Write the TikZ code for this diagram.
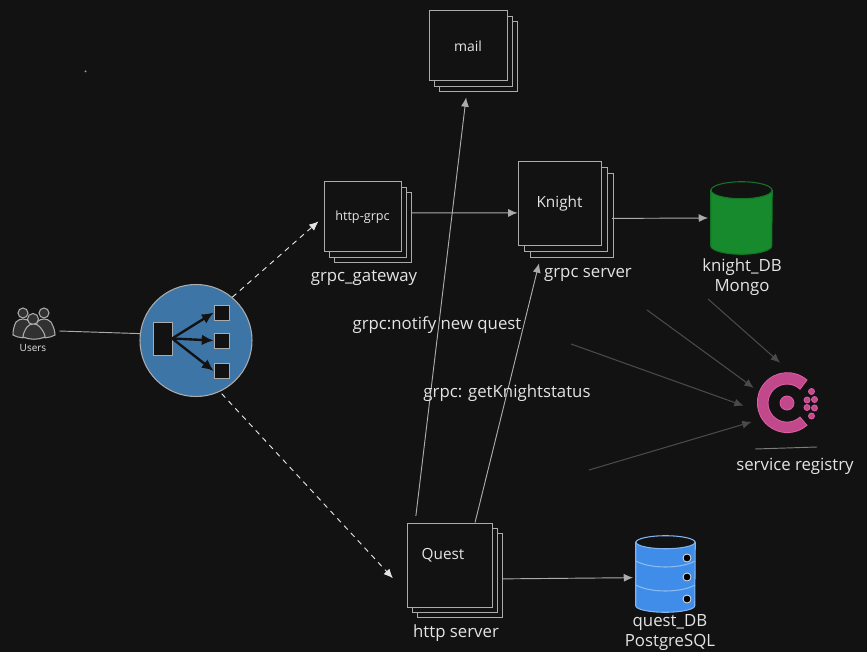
\documentclass[tikz,border=0pt]{standalone}
\usepackage{fontspec}
\setmainfont{Open Sans}
\usetikzlibrary{arrows.meta,positioning,calc,shadows}
\definecolor{bgc}{HTML}{121212}
\definecolor{linec}{HTML}{ABABAB}
\definecolor{textc}{HTML}{E4E4E4}
\definecolor{grayc}{HTML}{4A4A4A}
\definecolor{lbc}{HTML}{3D75A6}
\definecolor{mongoc}{HTML}{178A2E}
\definecolor{pgc}{HTML}{3F8DE8}
\definecolor{consulc}{HTML}{C2488C}
\definecolor{consuld}{HTML}{E25EA8}
\newcommand{\drumshape}[5]{%
  \path[draw=#2,fill=#3,line width=.8pt] ($(#1.north west)+(0,#4)$) -- ($(#1.south west)+(0,-#4)$) arc[start angle=180,end angle=0,x radius=#5,y radius=#4] -- ($(#1.north east)+(0,#4)$) -- cycle;
  \path[draw=#2,fill=bgc,line width=.8pt] ($(#1.north)+(0,#4)$) ellipse[x radius=#5,y radius=#4];}
\begin{document}
\begin{tikzpicture}[x=.75pt,y=-.75pt,>={Latex[length=7pt,width=6pt]},node distance=4pt,
  every node/.style={font=\fontsize{12.6}{15}\selectfont,text=textc,inner sep=0pt},
  stackbox/.style={draw=linec,fill=bgc,line width=.75pt,
    copy shadow={shadow xshift=2*#1,shadow yshift=-2*#1,draw=linec,fill=bgc},
    copy shadow={shadow xshift=#1,shadow yshift=-#1,draw=linec,fill=bgc}},
  label/.style={align=center},
  flow/.style={->,draw=linec,line width=.7pt},
  dashflow/.style={->,draw=textc,line width=.7pt,dash pattern=on 4pt off 3.5pt},
  regline/.style={->,draw=grayc,line width=.8pt},
  ptile/.style={draw=linec,fill=bgc,line width=.5pt},
  pperson/.style={draw=linec,fill=bgc!80!linec,line width=.8pt},
  pgdot/.style={circle,draw=textc,fill=black,minimum size=6pt,line width=.6pt},
  cdot/.style={circle,draw=consuld,fill=consulc,line width=.6pt,minimum size=#1}]
\fill[bgc] (0,0) rectangle (867,652);
\useasboundingbox (0,0) rectangle (867,652);
\fill[linec] (85.5,71.5) circle (1);

% users icon
\node[minimum width=39pt,minimum height=22pt] (users) at (33,331) {};
\node[font=\fontsize{7.5}{9}\selectfont] (userstxt) at (33,348) {Users};
\draw[pperson] (23,313) circle (5);
\draw[pperson] (44,313) circle (5);
\draw[pperson] (16,322) .. controls (20,318) and (26,318) .. (30,322) -- (33,336) .. controls (26,339) and (18,338) .. (13,335) .. controls (13,330) and (14,326) .. (16,322);
\draw[pperson] (37,322) .. controls (41,318) and (47,318) .. (51,322) .. controls (53,326) and (55,330) .. (55,335) .. controls (50,338) and (42,339) .. (35,336) -- cycle;
\draw[pperson] (33,319) circle (5.5);
\draw[pperson] (27,327) .. controls (30,323) and (37,323) .. (40,327) .. controls (43,331) and (45,334) .. (45,337) .. controls (38,340) and (30,340) .. (23,337) .. controls (23,334) and (25,330) .. (27,327);

% load balancer
\node[circle,draw=linec,fill=lbc,minimum size=84pt,line width=.8pt] (lb) at (196,340.5) {};
\node[ptile,minimum width=14pt,minimum height=25pt] (lbin) at (162.5,338.5) {};
\node[ptile,minimum size=11pt] (lbup) at (221.5,312.5) {};
\node[ptile,minimum size=11pt] (lbmid) at (221.5,340.5) {};
\node[ptile,minimum size=11pt] (lbdown) at (221.5,371) {};
\draw[-{Latex[length=9pt,width=8pt]},line width=1.8pt,bgc] (lbin.east) -- (lbup.west);
\draw[-{Latex[length=9pt,width=8pt]},line width=1.8pt,bgc] (lbin.east) -- (lbmid.west);
\draw[-{Latex[length=9pt,width=8pt]},line width=1.8pt,bgc] (lbin.east) -- (lbdown.west);

% services
\node[stackbox=4pt,minimum width=58.5pt,minimum height=52.5pt] (mail) at (468,46) {\fontsize{10.5}{12}\selectfont mail};
\node[stackbox=4pt,minimum width=57.75pt,minimum height=52.5pt] (gateway) at (362.5,217) {\fontsize{9.5}{9}\selectfont http-grpc};
\node[stackbox=4.5pt,minimum width=62.25pt,minimum height=63pt] (knight) at (559.5,204) {\fontsize{11.5}{15}\selectfont Knight};
\node[stackbox=4pt,minimum width=63.75pt,minimum height=63pt] (quest) at (449.5,565) {};
\node[font=\fontsize{11.5}{15}\selectfont] at (443,555) (questtxt) {Quest};
\node[label] (gatewaytxt) at (364,278) {grpc\_gateway};
\node[label] (knighttxt) at (588,275) {grpc server};
\node[label] (questlbl) at (456,633) {http server};

% databases
\node[minimum width=45.75pt,minimum height=54pt] (mongo) at (741.5,218) {};
\node[minimum width=44.25pt,minimum height=57pt] (pg) at (665.5,574) {};
\drumshape{mongo}{mongoc!85!black}{mongoc}{8.5}{30.5}
\drumshape{pg}{pgc!65!white}{pgc}{6.5}{29.5}
\draw[pgc!60!white,line width=.8pt] (636,561) .. controls (650,569) and (681,569) .. (695,561);
\draw[pgc!60!white,line width=.8pt] (636,585) .. controls (650,593) and (681,593) .. (695,585);
\node[pgdot] (pgdota) at (687,558) {};
\node[pgdot] (pgdotb) at (687,577) {};
\node[pgdot] (pgdotc) at (687,599) {};
\node[label] (mongotxt) at (742,277) {knight\_DB\\Mongo};
\node[label] (pgtxt) at (670,633) {quest\_DB\\PostgreSQL};

% registry
\node[circle,minimum size=45pt] (consul) at (787,403) {};
\draw[draw=consuld,fill=consulc,line width=.6pt] (807,380) arc[start angle=-49,end angle=-311,radius=30] -- (800,417) arc[start angle=47,end angle=313,radius=19] -- cycle;
\node[cdot=10.5pt] (consulhub) at (787,403) {};
\node[cdot=4.5pt] (da) at (811.5,391.5) {};
\node[cdot=4.5pt] (db) at (807,400) {};
\node[cdot=4.5pt] (dc) at (814.5,399.5) {};
\node[cdot=4.5pt] (dd) at (807,407.5) {};
\node[cdot=4.5pt] (de) at (814.5,408) {};
\node[cdot=4.5pt] (df) at (811.5,416) {};
\coordinate (rulea) at (755,449);
\coordinate (ruleb) at (817,447);
\draw[linec!70!bgc,line width=.7pt] (rulea) -- (ruleb);
\node[label] (consultxt) at (795,466) {service registry};

% connectors
\draw[draw=linec,line width=.7pt] (users.east) -- (lb.173);
\draw[dashflow,shorten >=5pt] (lb.50) -- (gateway.west);
\draw[dashflow,shorten <=2pt,shorten >=15pt] (lb.-65) -- (quest.213);
\draw[flow,shorten <=8pt] (gateway.6) -- (knight.192);
\draw[flow,shorten <=8pt,shorten >=2pt] (knight.-19) -- (mongo.west);
\draw[flow,shorten <=8pt,shorten >=2pt] (quest.-18) -- (pg.187);
\draw[flow,shorten <=5pt,shorten >=12pt] (quest.129) -- (mail.south);
\draw[flow,shorten >=13pt] (quest.59) -- (knight.-111);
\node[label] (notifylbl) at (437,325) {grpc:notify new quest};
\node[label] (statuslbl) at (507,393) {grpc: getKnightstatus};

\coordinate (rega) at (708,299);
\coordinate (regb) at (647,310);
\coordinate (regc) at (571,344);
\coordinate (regd) at (589,470);
\draw[regline,shorten >=11.7pt] (rega) -- (consul.81);
\draw[regline,shorten >=4.8pt] (regb) -- (consul.158);
\draw[regline,shorten >=11.2pt] (regc) -- (consul.195);
\draw[regline,shorten >=7.6pt] (regd) -- (consul.212);
\end{tikzpicture}
\end{document}
